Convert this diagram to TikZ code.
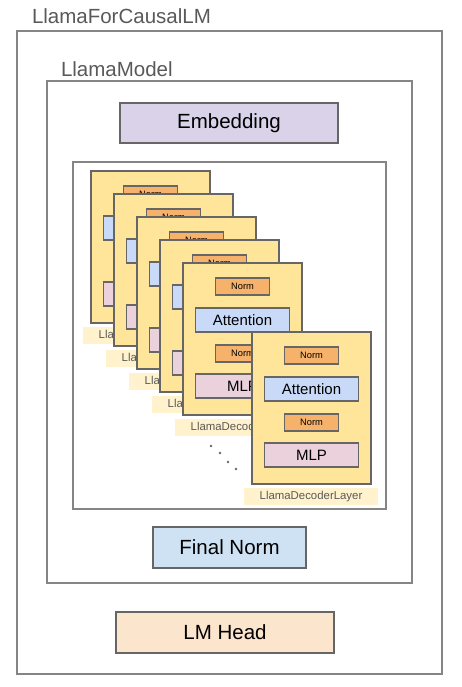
\documentclass[tikz,border=0pt]{standalone}
\usepackage{fontspec}
\setmainfont{Liberation Sans}
\usetikzlibrary{positioning}
\definecolor{edgegray}{HTML}{666666}
\definecolor{framegray}{HTML}{858585}
\definecolor{textgray}{HTML}{595959}
\definecolor{embfill}{HTML}{D9D2E9}
\definecolor{finalfill}{HTML}{CFE2F3}
\definecolor{headfill}{HTML}{FCE5CD}
\definecolor{cardfill}{HTML}{FFE599}
\definecolor{normfill}{HTML}{F6B26B}
\definecolor{attnfill}{HTML}{C9DAF8}
\definecolor{mlpfill}{HTML}{EAD1DC}
\definecolor{labfill}{HTML}{FFF2CC}
\tikzstyle{every node}=[inner sep=0pt,outer sep=0pt]
\tikzstyle{frame}=[draw=framegray,line width=1.5pt]
\tikzstyle{block}=[draw=edgegray,line width=1.2pt,font=\fontsize{20.5}{24}\selectfont]
\tikzstyle{card}=[draw=edgegray,line width=1.2pt,fill=cardfill,anchor=north west,
  minimum width=119pt,minimum height=152pt]
\tikzstyle{norm}=[draw=edgegray,line width=1.1pt,fill=normfill,minimum width=54pt,
  minimum height=17pt,font=\fontsize{9.3}{10}\selectfont]
\tikzstyle{sub}=[draw=edgegray,line width=1.1pt,minimum width=94pt,
  minimum height=24pt,font=\fontsize{15}{17}\selectfont]
\tikzstyle{layerlabel}=[fill=labfill,minimum width=134pt,minimum height=17pt,
  text=textgray,font=\fontsize{11.4}{12}\selectfont]
\tikzstyle{title}=[anchor=base west,text=textgray,font=\fontsize{20.5}{24}\selectfont]

\begin{document}
\begin{tikzpicture}[x=1pt,y=-1pt]
  \useasboundingbox (0,0) rectangle (462,687);
  % containers
  \draw[frame] (17,31) rectangle (442,674);
  \node[title] (causallm) at (32,23.5) {LlamaForCausalLM};
  \draw[frame] (47,81) rectangle (412,583);
  \node[title] (model) at (61,77) {LlamaModel};
  \draw[frame] (73,162) rectangle (386,509);
  \node[block,fill=embfill,minimum width=218pt,minimum height=40pt] (embedding) at (229,123) {Embedding};
  % decoder layers
  \foreach \i in {0,...,4,7}{
    \node[card] (card\i) at (91+23*\i,171+23*\i) {};
    \node[norm] (norma\i) at ([shift={(59.5,23.5)}]card\i.north west) {Norm};
    \node[sub,fill=attnfill] (attn\i) at ([shift={(59.5,57)}]card\i.north west) {Attention};
    \node[norm] (normb\i) at ([shift={(59.5,90.5)}]card\i.north west) {Norm};
    \node[sub,fill=mlpfill] (mlp\i) at ([shift={(59.5,123)}]card\i.north west) {MLP};
    \node[layerlabel] (lab\i) at ([shift={(59,164.5)}]card\i.north west) {LlamaDecoderLayer};
  }
  \foreach \x/\y in {211/446,220/453,228/462,236/469}
    \fill[edgegray] (\x,\y) circle (1.3);
  \node[block,fill=finalfill,minimum width=153pt,minimum height=41pt] (finalnorm) at (229.5,547.5) {Final Norm};
  \node[block,fill=headfill,minimum width=218pt,minimum height=41pt] (lmhead) at (225,632.5) {LM Head};
\end{tikzpicture}
\end{document}
